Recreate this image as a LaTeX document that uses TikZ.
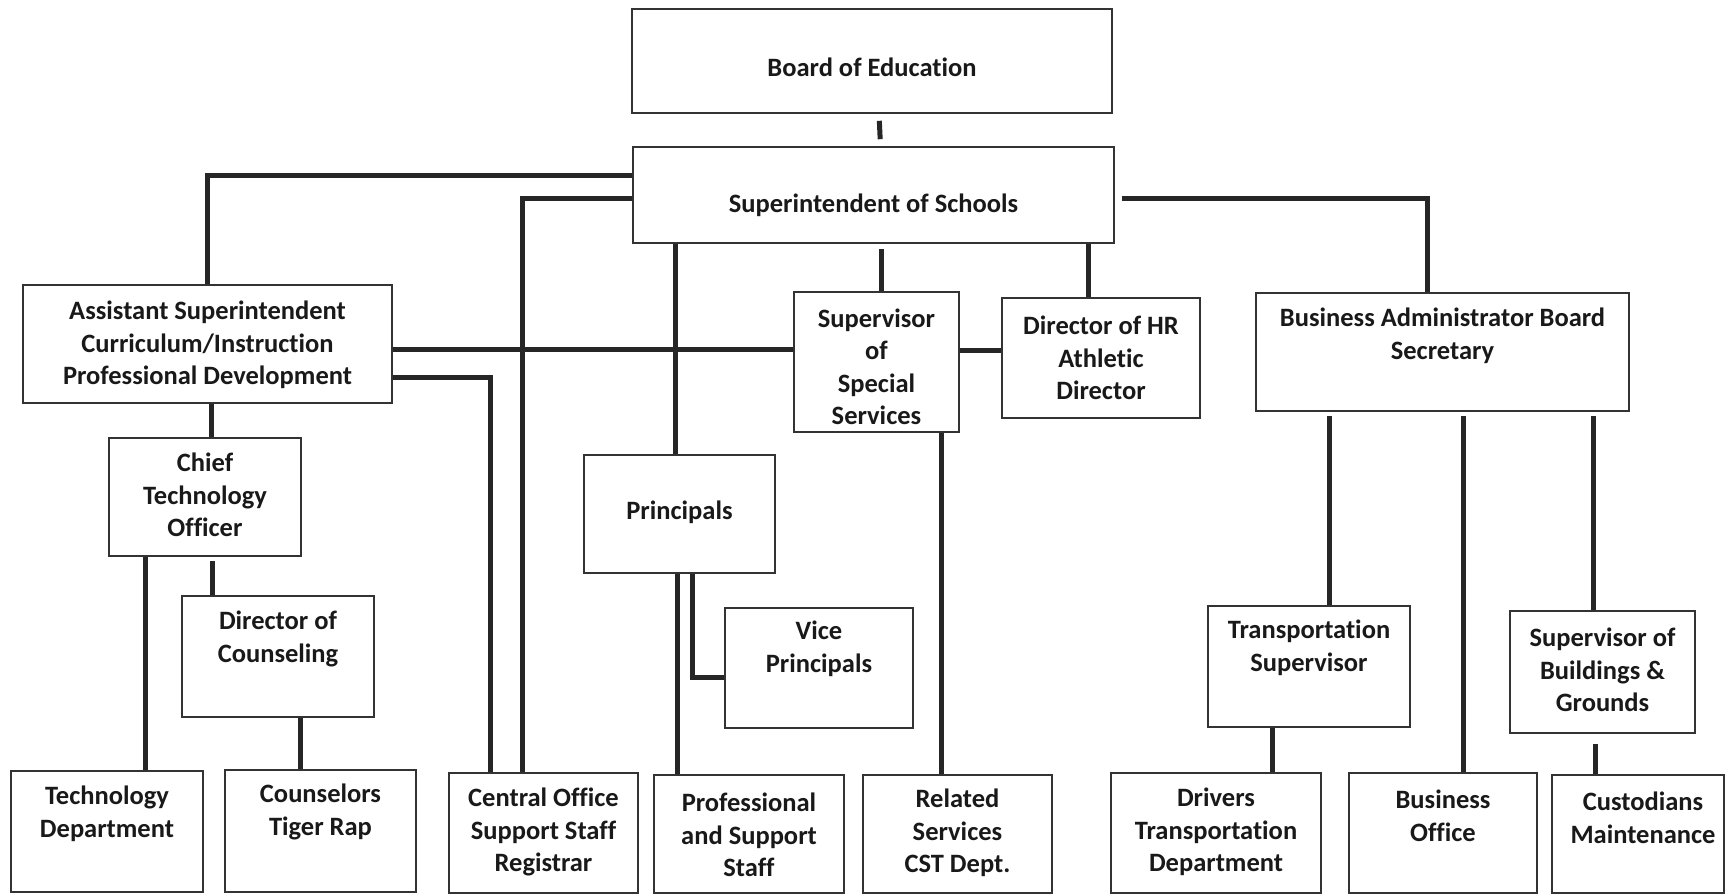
\documentclass[tikz,border=0pt]{standalone}
\usepackage{fontspec}
\setmainfont{Carlito}[Ligatures=NoCommon]
\tikzset{
  box/.style={draw=black!80, line width=1.6pt, inner sep=0pt},
  lbl/.style={font=\fontsize{26.5}{32.5}\selectfont\bfseries, align=center, inner sep=0pt, text=black!90},
  conn/.style={draw=black!85, line width=5pt, line join=miter}
}
\newcommand\orgbox[8]{%
  \node[box, minimum width=#4pt, minimum height=#5pt] (#1) at (#2,#3) {};
  \node[lbl] (#1-t) at (#6,#7) {#8};}
\begin{document}
\begin{tikzpicture}[x=1pt,y=-1pt]
\useasboundingbox (0,0) rectangle (1729,894);
\fill[white] (0,0) rectangle (1729,894);
% boxes: name, cx, cy, w, h, text-x, text-y, text
\orgbox{board}{872}{61}{480}{104}{872}{67}{Board of Education}
\orgbox{super}{873.5}{195}{481}{96}{873.5}{205}{Superintendent of Schools}
\orgbox{asst}{207.5}{344}{369}{118}{207.5}{345}{Assistant Superintendent\\Curriculum/Instruction\\Professional Development}
\orgbox{supss}{876.5}{362}{165}{140}{876.5}{367}{Supervisor\\of\\Special\\Services}
\orgbox{dirhr}{1101}{358}{198}{120}{1101}{358}{Director of HR\\Athletic\\Director}
\orgbox{ba}{1442.5}{352}{373}{118}{1442.5}{336}{Business Administrator Board\\Secretary}
\orgbox{chief}{205}{497}{192}{118}{205}{495}{Chief\\Technology\\Officer}
\orgbox{dircouns}{278}{656.5}{192}{121}{278}{639}{Director of\\Counseling}
\orgbox{principals}{679.5}{514}{191}{118}{679.5}{512}{Principals}
\orgbox{vice}{819}{668}{188}{120}{819}{649}{Vice\\Principals}
\orgbox{trans}{1309}{666.5}{202}{121}{1309}{648}{Transportation\\Supervisor}
\orgbox{sbg}{1602.5}{672}{185}{122}{1602.5}{670}{Supervisor of\\Buildings \&\\Grounds}
\orgbox{tech}{107}{831.5}{192}{121}{107}{814}{Technology\\Department}
\orgbox{couns}{320.5}{831}{191}{122}{320.5}{812}{Counselors\\Tiger Rap}
\orgbox{central}{543.5}{833}{189}{120}{543.5}{832}{Central Office\\Support Staff\\Registrar}
\orgbox{prof}{749}{834}{190}{118}{749}{835}{Professional\\and Support\\Staff}
\orgbox{related}{957.5}{834}{189}{118}{957.5}{833}{Related\\Services\\CST Dept.}
\orgbox{drivers}{1216}{833}{210}{120}{1216}{832}{Drivers\\Transportation\\Department}
\orgbox{bizoff}{1443}{833}{188}{120}{1443}{816}{Business\\Office}
\orgbox{cust}{1638}{834}{172}{118}{1643}{818}{Custodians\\Maintenance}
% connectors
\draw[conn, shorten <=7pt, shorten >=7pt] ([xshift=7pt]board.south) -- ([xshift=7pt]super.north);
\draw[conn] ([yshift=20pt]super.west) -| (asst.north);
\draw[conn] ([yshift=-3pt]super.west) -| ([xshift=-21pt]central.north);
\draw[conn] ([xshift=-4pt]principals.north) -- ([xshift=-4pt]principals.north |- super.south);
\draw[conn, shorten >=5pt] ([xshift=4.5pt]supss.north) -- ([xshift=4.5pt]supss.north |- super.south);
\draw[conn] ([xshift=-13pt]dirhr.north) -- ([xshift=-13pt]dirhr.north |- super.south);
\draw[conn, shorten <=7pt] ([yshift=-3pt]super.east) -| ([xshift=-15.5pt]ba.north);
\draw[conn] ([yshift=-5pt]asst.east) -- ([yshift=-5pt]asst.east -| supss.west);
\draw[conn] ([yshift=-33pt]asst.east) -| ([xshift=-53pt]central.north);
\draw[conn] ([yshift=12pt]supss.east) -- ([yshift=12pt]supss.east -| dirhr.west);
\draw[conn] ([xshift=3.5pt]asst.south) -- ([xshift=3.5pt]asst.south |- chief.north);
\draw[conn] ([xshift=-60pt]chief.south) -- ([xshift=-60pt]chief.south |- tech.north);
\draw[conn, shorten <=4pt] ([xshift=7pt]chief.south) -- ([xshift=7pt]chief.south |- dircouns.north);
\draw[conn] ([xshift=22pt]dircouns.south) -- ([xshift=22pt]dircouns.south |- couns.north);
\draw[conn] ([xshift=-2.5pt]principals.south) -- ([xshift=-2.5pt]principals.south |- prof.north);
\draw[conn] ([xshift=12.5pt]principals.south) |- ([yshift=-9pt]vice.west);
\draw[conn] ([xshift=64.5pt]supss.south) -- ([xshift=64.5pt]supss.south |- related.north);
\draw[conn, shorten <=4pt] ([xshift=-113.5pt]ba.south) -- ([xshift=-113.5pt]ba.south |- trans.north);
\draw[conn, shorten <=4pt] ([xshift=20.5pt]ba.south) -- ([xshift=20.5pt]ba.south |- bizoff.north);
\draw[conn, shorten <=4pt] ([xshift=150.5pt]ba.south) -- ([xshift=150.5pt]ba.south |- sbg.north);
\draw[conn] ([xshift=-37pt]trans.south) -- ([xshift=-37pt]trans.south |- drivers.north);
\draw[conn, shorten <=10pt] ([xshift=-7.5pt]sbg.south) -- ([xshift=-7.5pt]sbg.south |- cust.north);
\end{tikzpicture}
\end{document}
